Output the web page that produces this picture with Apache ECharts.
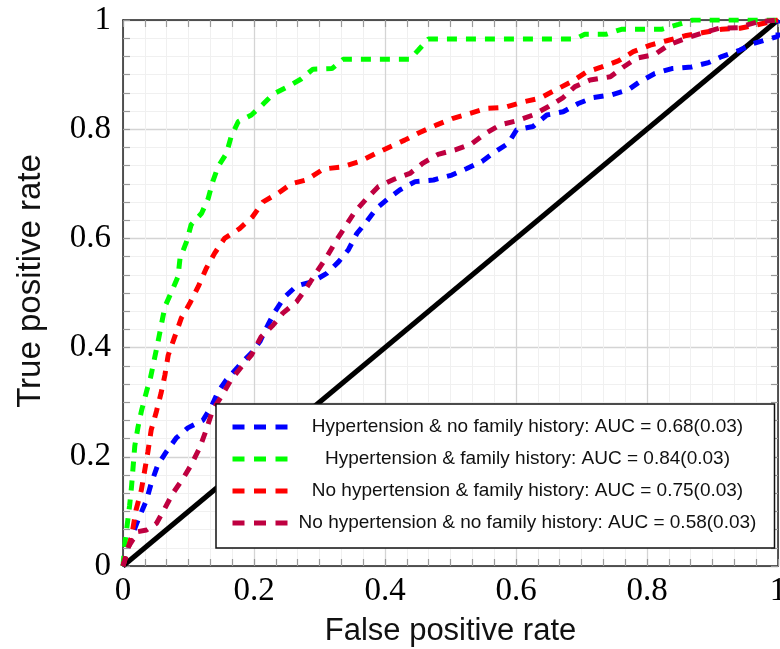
<!DOCTYPE html>
<html>
<head>
<meta charset="utf-8">
<script src="https://cdn.jsdelivr.net/npm/echarts@6/dist/echarts.min.js"></script>
<style>
  html, body { margin: 0; padding: 0; background: #fff; }
  #RocChart { width: 780px; height: 649px; }
</style>
</head>
<body>
<div id="RocChart"></div>
<script>
// ROC curves, values
const legendNames = [
  'Hypertension & no family history: AUC = 0.68(0.03)',
  'Hypertension & family history: AUC = 0.84(0.03)',
  'No hypertension & family history: AUC = 0.75(0.03)',
  'No hypertension & no family history: AUC = 0.58(0.03)'
]
const tickValues = [0, 0.2, 0.4, 0.6, 0.8, 1]

const blueFpr = [0, 0.005, 0.015, 0.025, 0.036, 0.043, 0.053, 0.066, 0.081, 0.099, 0.122, 0.135, 0.145, 0.158, 0.178, 0.196, 0.209, 0.221, 0.232, 0.247, 0.265, 0.29, 0.311, 0.329, 0.344, 0.357, 0.372, 0.387, 0.405, 0.423, 0.446, 0.474, 0.502, 0.525, 0.548, 0.565, 0.588, 0.601, 0.626, 0.647, 0.672, 0.695, 0.718, 0.746, 0.771, 0.789, 0.812, 0.838, 0.868, 0.894, 0.914, 0.942, 0.962, 0.988, 1, 1]
const blueTpr = [0, 0.023, 0.06, 0.09, 0.121, 0.151, 0.185, 0.209, 0.234, 0.253, 0.267, 0.292, 0.319, 0.341, 0.368, 0.39, 0.411, 0.441, 0.466, 0.493, 0.513, 0.521, 0.536, 0.557, 0.579, 0.609, 0.631, 0.655, 0.673, 0.689, 0.704, 0.707, 0.716, 0.728, 0.741, 0.756, 0.774, 0.799, 0.805, 0.826, 0.832, 0.847, 0.858, 0.863, 0.872, 0.887, 0.902, 0.911, 0.914, 0.922, 0.933, 0.945, 0.957, 0.966, 0.97, 1]

const greenFpr = [0, 0.003, 0.01, 0.013, 0.018, 0.023, 0.028, 0.036, 0.042, 0.053, 0.064, 0.074, 0.084, 0.087, 0.097, 0.104, 0.12, 0.13, 0.137, 0.145, 0.158, 0.165, 0.176, 0.196, 0.214, 0.229, 0.252, 0.272, 0.29, 0.319, 0.336, 0.438, 0.451, 0.466, 0.69, 0.705, 0.738, 0.761, 0.822, 0.848, 0.87, 1]
const greenTpr = [0, 0.042, 0.11, 0.145, 0.22, 0.255, 0.283, 0.32, 0.345, 0.408, 0.475, 0.502, 0.53, 0.563, 0.594, 0.625, 0.646, 0.673, 0.704, 0.731, 0.756, 0.786, 0.814, 0.826, 0.846, 0.864, 0.878, 0.892, 0.91, 0.911, 0.928, 0.928, 0.945, 0.965, 0.965, 0.974, 0.974, 0.983, 0.983, 0.992, 1, 1]

const redFpr = [0, 0.005, 0.013, 0.02, 0.028, 0.038, 0.043, 0.051, 0.058, 0.064, 0.069, 0.079, 0.089, 0.102, 0.115, 0.127, 0.14, 0.155, 0.178, 0.198, 0.214, 0.237, 0.257, 0.28, 0.306, 0.334, 0.362, 0.385, 0.408, 0.43, 0.453, 0.479, 0.504, 0.555, 0.583, 0.611, 0.637, 0.662, 0.685, 0.708, 0.731, 0.756, 0.779, 0.805, 0.83, 0.858, 0.886, 0.914, 0.942, 0.967, 1]
const redTpr = [0, 0.02, 0.054, 0.103, 0.139, 0.209, 0.249, 0.283, 0.316, 0.35, 0.386, 0.42, 0.454, 0.481, 0.512, 0.545, 0.573, 0.6, 0.618, 0.64, 0.667, 0.683, 0.7, 0.707, 0.727, 0.731, 0.741, 0.755, 0.768, 0.78, 0.794, 0.808, 0.82, 0.838, 0.84, 0.85, 0.857, 0.873, 0.887, 0.905, 0.914, 0.925, 0.942, 0.954, 0.962, 0.971, 0.977, 0.983, 0.985, 0.991, 1]

const purpleFpr = [0, 0.008, 0.023, 0.036, 0.051, 0.064, 0.076, 0.092, 0.104, 0.117, 0.127, 0.137, 0.15, 0.165, 0.181, 0.196, 0.211, 0.229, 0.244, 0.265, 0.28, 0.296, 0.311, 0.326, 0.339, 0.354, 0.372, 0.39, 0.413, 0.438, 0.458, 0.481, 0.507, 0.532, 0.553, 0.576, 0.6, 0.626, 0.649, 0.672, 0.69, 0.713, 0.744, 0.764, 0.784, 0.812, 0.833, 0.858, 0.884, 0.911, 0.939, 0.967, 1]
const purpleTpr = [0, 0.035, 0.063, 0.066, 0.078, 0.106, 0.133, 0.161, 0.185, 0.216, 0.249, 0.286, 0.31, 0.341, 0.365, 0.386, 0.42, 0.441, 0.463, 0.484, 0.509, 0.539, 0.566, 0.597, 0.621, 0.649, 0.673, 0.695, 0.708, 0.719, 0.738, 0.754, 0.762, 0.773, 0.792, 0.808, 0.815, 0.826, 0.841, 0.858, 0.878, 0.89, 0.896, 0.914, 0.93, 0.937, 0.954, 0.966, 0.976, 0.985, 0.986, 0.996, 1]

const chanceFpr = [0, 1]
const chanceTpr = [0, 1]

function pairs(xs, ys) {
  return xs.map((x, i) => [x, ys[i]])
}

const tickFont = {
  fontFamily: 'Liberation Serif',
  fontSize: 33,
  color: '#000000'
}

function curve(name, color, xs, ys) {
  return {
    name: name,
    type: 'line',
    data: pairs(xs, ys),
    symbol: 'none',
    smooth: false,
    z: 3,
    itemStyle: { color: color },
    lineStyle: { color: color, width: 5, type: [10, 9] }
  }
}

// top / right frame axes, ticks only
function sideAxis(pos) {
  return {
    type: 'value',
    position: pos,
    min: 0,
    max: 1,
    interval: 0.2,
    axisLine: { show: true, onZero: false, lineStyle: { color: '#222', width: 1.5 } },
    axisTick: { show: true, inside: true, length: 7, lineStyle: { color: '#999', width: 1.2 } },
    minorTick: { show: true, splitNumber: 6, length: 7, lineStyle: { color: '#999', width: 1.2 } },
    axisLabel: { show: false },
    splitLine: { show: false },
    minorSplitLine: { show: false }
  }
}

let myChart = echarts.init(document.getElementById('RocChart'), null, { renderer: 'canvas' })
let option = {
  animation: false,
  backgroundColor: '#ffffff',
  grid: {
    left: 123,
    right: 2,
    top: 20,
    bottom: 83,
    containLabel: false,
    outerBoundsMode: 'none'
  },
  legend: {
    data: legendNames,
    orient: 'vertical',
    left: 216,
    top: 404,
    padding: [13, 12, 15, 14],
    itemWidth: 55,
    itemHeight: 14,
    itemGap: 12,
    backgroundColor: '#ffffff',
    borderColor: '#111111',
    borderWidth: 1.5,
    borderRadius: 0,
    z: 10,
    itemStyle: { opacity: 0 },
    lineStyle: { width: 5, type: [12, 9.5], opacity: 1 },
    formatter: function (name) {
      return '{c|' + name + '}'
    },
    textStyle: {
      fontFamily: 'Liberation Sans',
      fontSize: 19,
      color: '#111111',
      lineHeight: 20,
      rich: {
        c: {
          width: 470,
          align: 'center',
          fontFamily: 'Liberation Sans',
          fontSize: 19,
          lineHeight: 20,
          color: '#111111'
        }
      }
    }
  },
  xAxis: [
    {
      type: 'value',
      position: 'bottom',
      min: 0,
      max: 1,
      interval: 0.2,
      name: 'False positive rate',
      nameLocation: 'middle',
      nameGap: 50,
      nameTextStyle: { fontFamily: 'Liberation Sans', fontSize: 31, color: '#111111' },
      axisLine: { show: true, onZero: false, lineStyle: { color: '#222', width: 1.5 } },
      axisTick: { show: true, inside: true, length: 7, lineStyle: { color: '#999', width: 1.2 } },
      minorTick: { show: true, splitNumber: 6, length: 7, lineStyle: { color: '#999', width: 1.2 } },
      axisLabel: {
        show: true,
        margin: 9,
        formatter: function (v) { return tickValues.indexOf(v) >= 0 ? String(v) : '' },
        ...tickFont
      },
      splitLine: { show: true, lineStyle: { color: '#d4d4d4', width: 1.3 } },
      minorSplitLine: { show: true, lineStyle: { color: '#f0f0f0', width: 1 } }
    },
    sideAxis('top')
  ],
  yAxis: [
    {
      type: 'value',
      position: 'left',
      min: 0,
      max: 1,
      interval: 0.2,
      name: 'True positive rate',
      nameLocation: 'middle',
      nameGap: 76,
      nameTextStyle: {
        fontFamily: 'Liberation Sans',
        fontSize: 33,
        color: '#111111',
        padding: [0, 0, 0, 24]
      },
      axisLine: { show: true, onZero: false, lineStyle: { color: '#222', width: 1.5 } },
      axisTick: { show: true, inside: true, length: 7, lineStyle: { color: '#999', width: 1.2 } },
      minorTick: { show: true, splitNumber: 6, length: 7, lineStyle: { color: '#999', width: 1.2 } },
      axisLabel: {
        show: true,
        margin: 12,
        formatter: function (v) { return tickValues.indexOf(v) >= 0 ? String(v) : '' },
        ...tickFont
      },
      splitLine: { show: true, lineStyle: { color: '#d4d4d4', width: 1.3 } },
      minorSplitLine: { show: true, lineStyle: { color: '#f0f0f0', width: 1 } }
    },
    sideAxis('right')
  ],
  series: [
    {
      name: 'chance',
      type: 'line',
      data: pairs(chanceFpr, chanceTpr),
      symbol: 'none',
      z: 2,
      itemStyle: { color: '#000000' },
      lineStyle: { color: '#000000', width: 5, type: 'solid' }
    },
    curve(legendNames[0], '#0000ff', blueFpr, blueTpr),
    curve(legendNames[1], '#00ff00', greenFpr, greenTpr),
    curve(legendNames[2], '#ff0000', redFpr, redTpr),
    curve(legendNames[3], '#bf0040', purpleFpr, purpleTpr)
  ]
}
myChart.setOption(option)
</script>
</body>
</html>
